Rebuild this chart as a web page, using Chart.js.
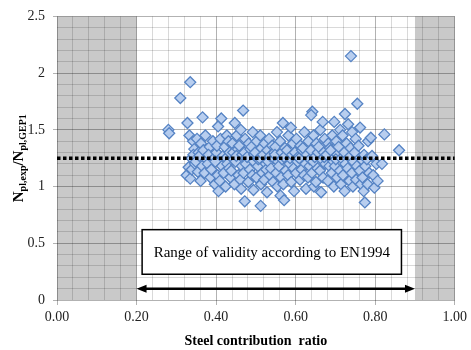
<!DOCTYPE html>
<html>
<head>
<meta charset="utf-8">
<script src="https://cdn.jsdelivr.net/npm/chart.js@4/dist/chart.umd.min.js"></script>
<style>
  body { margin: 0; background: #fff; }
  #wrap { width: 471px; height: 350px; }
</style>
</head>
<body>
<div id="wrap"><canvas id="chart" width="471" height="350"></canvas></div>
<script>
// Steel contribution ratio (x) vs Npl,exp/Npl,GEP1 (y)
const ratio = [
  0.280, 0.282, 0.31, 0.335,
  0.328, 0.333, 0.326, 0.335, 0.331, 0.338,
  0.342, 0.345, 0.339, 0.347, 0.343,
  0.352, 0.356, 0.349, 0.354,
  0.366, 0.362, 0.358, 0.365, 0.361,
  0.373, 0.368, 0.376, 0.371,
  0.384, 0.379, 0.386, 0.381,
  0.392, 0.395, 0.388, 0.397,
  0.405, 0.401, 0.398, 0.404, 0.406, 0.402,
  0.413, 0.411, 0.415, 0.409, 0.417,
  0.422, 0.425, 0.419, 0.424, 0.427,
  0.431, 0.434, 0.428, 0.436, 0.433,
  0.447, 0.441, 0.444, 0.438, 0.446, 0.443,
  0.452, 0.455, 0.449, 0.456, 0.451,
  0.462, 0.458, 0.465, 0.461, 0.463, 0.466,
  0.468, 0.473, 0.471, 0.475, 0.472, 0.469,
  0.482, 0.478, 0.485, 0.481, 0.486,
  0.492, 0.489, 0.495, 0.491, 0.494, 0.496,
  0.502, 0.498, 0.505, 0.501, 0.506,
  0.511, 0.514, 0.509, 0.516, 0.512, 0.513,
  0.522, 0.518, 0.525, 0.521, 0.526,
  0.533, 0.529, 0.531, 0.535, 0.528, 0.536,
  0.541, 0.545, 0.538, 0.543, 0.546,
  0.553, 0.549, 0.556, 0.551, 0.554, 0.548,
  0.561, 0.565, 0.558, 0.563, 0.562, 0.566,
  0.568, 0.573, 0.571, 0.575, 0.571, 0.569,
  0.582, 0.578, 0.585, 0.581, 0.586,
  0.588, 0.593, 0.591, 0.595, 0.589, 0.596,
  0.602, 0.598, 0.605, 0.601, 0.606,
  0.612, 0.609, 0.615, 0.611, 0.616,
  0.622, 0.618, 0.625, 0.621, 0.626,
  0.632, 0.628, 0.635, 0.631, 0.636,
  0.642, 0.639, 0.645, 0.638, 0.644, 0.641, 0.646,
  0.652, 0.648, 0.655, 0.651, 0.656,
  0.662, 0.658, 0.665, 0.661, 0.664,
  0.668, 0.673, 0.671, 0.675, 0.669, 0.672,
  0.682, 0.678, 0.685, 0.681, 0.686,
  0.692, 0.688, 0.695, 0.691, 0.696,
  0.697, 0.702, 0.705, 0.699, 0.704, 0.701,
  0.712, 0.708, 0.715, 0.711, 0.714,
  0.724, 0.718, 0.722, 0.725, 0.719, 0.723,
  0.732, 0.728, 0.735, 0.731, 0.736,
  0.739, 0.742, 0.738, 0.745, 0.741, 0.744,
  0.755, 0.751, 0.748, 0.754, 0.752,
  0.762, 0.758, 0.765, 0.761, 0.764,
  0.772, 0.775, 0.768, 0.774, 0.771,
  0.782, 0.779, 0.785, 0.781,
  0.789, 0.792, 0.795, 0.798,
  0.803, 0.806,
  0.823, 0.817,
  0.86
];
const strength = [
  1.50, 1.47, 1.78, 1.92,
  1.56, 1.45, 1.10, 1.07, 1.17, 1.25,
  1.40, 1.33, 1.15, 1.20, 1.28,
  1.42, 1.30, 1.22, 1.13,
  1.61, 1.38, 1.27, 1.18, 1.05,
  1.45, 1.32, 1.24, 1.12,
  1.35, 1.20, 1.08, 1.28,
  1.40, 1.25, 1.15, 1.02,
  1.53, 1.30, 1.22, 1.10, 0.96, 1.36,
  1.60, 1.42, 1.18, 1.05, 1.27,
  1.35, 1.25, 1.12, 1.00, 1.45,
  1.40, 1.30, 1.20, 1.08, 1.16,
  1.56, 1.38, 1.24, 1.14, 1.02, 1.30,
  1.45, 1.33, 1.22, 1.10, 1.27,
  1.50, 1.36, 1.18, 1.06, 0.98, 1.28,
  1.67, 1.42, 1.30, 1.20, 0.87, 1.12,
  1.38, 1.26, 1.15, 1.04, 1.33,
  1.48, 1.35, 1.22, 1.10, 0.97, 1.28,
  1.40, 1.30, 1.18, 1.08, 1.24,
  1.45, 1.34, 1.25, 1.12, 0.83, 1.02,
  1.38, 1.28, 1.20, 1.06, 1.15,
  1.42, 1.32, 1.22, 1.10, 0.95, 1.27,
  1.36, 1.25, 1.16, 1.04, 1.30,
  1.48, 1.35, 1.22, 1.12, 1.00, 1.28,
  1.40, 1.30, 1.18, 1.08, 0.92, 1.24,
  1.56, 1.34, 1.26, 1.14, 0.88, 1.02,
  1.45, 1.32, 1.20, 1.10, 1.25,
  1.52, 1.38, 1.28, 1.16, 1.04, 0.96,
  1.42, 1.30, 1.22, 1.12, 1.26,
  1.36, 1.25, 1.15, 1.06, 1.32,
  1.48, 1.34, 1.20, 1.10, 0.98,
  1.40, 1.28, 1.18, 1.08, 1.24,
  1.66, 1.63, 1.45, 1.32, 1.22, 1.12, 1.00,
  1.38, 1.26, 1.16, 1.04, 1.30,
  1.50, 1.35, 1.24, 1.14, 0.95,
  1.57, 1.42, 1.30, 1.20, 1.08, 1.26,
  1.38, 1.28, 1.18, 1.05, 1.34,
  1.45, 1.32, 1.22, 1.12, 1.00,
  1.57, 1.40, 1.28, 1.18, 1.08, 1.24,
  1.50, 1.35, 1.25, 1.14, 1.02,
  1.64, 1.45, 1.30, 1.20, 1.10, 0.96,
  1.55, 1.38, 1.26, 1.16, 1.05,
  2.15, 1.48, 1.34, 1.22, 1.12, 1.00,
  1.73, 1.42, 1.30, 1.18, 1.06,
  1.52, 1.36, 1.24, 1.14, 1.02,
  1.28, 1.18, 1.08, 0.86, 0.96,
  1.40, 1.24, 1.12, 1.02,
  1.43, 1.27, 1.10, 0.99,
  1.20, 1.05,
  1.46, 1.20,
  1.32
];
const meanLevel = 1.25;                 // dotted reference line
const shadedRanges = [[0, 0.2], [0.9, 1.0]];
const validityRange = [0.2, 0.9];       // arrow ends
const arrowLevel = 0.1;
const boxX = [0.214, 0.866];
const boxY = [0.227, 0.62];
const boxText = 'Range of validity according to EN1994';

const points = ratio.map((x, i) => ({ x: x, y: strength[i] }));

const serif = '"Liberation Serif", "Times New Roman", serif';

const backdrop = {
  id: 'backdrop',
  beforeDraw(chart) {
    const { ctx, chartArea, scales } = chart;
    ctx.save();
    ctx.fillStyle = '#fff';
    ctx.fillRect(0, 0, chart.width, chart.height);
    ctx.fillStyle = '#c9c9c9';
    shadedRanges.forEach(([a, b]) => {
      const x0 = scales.x.getPixelForValue(a);
      const x1 = scales.x.getPixelForValue(b);
      ctx.fillRect(x0, chartArea.top, x1 - x0, chartArea.bottom - chartArea.top);
    });
    ctx.restore();
  }
};

const notes = {
  id: 'notes',
  afterDatasetsDraw(chart) {
    const { ctx, scales } = chart;
    const sx = scales.x, sy = scales.y;
    ctx.save();
    // text box
    const bx0 = sx.getPixelForValue(boxX[0]), bx1 = sx.getPixelForValue(boxX[1]);
    const by0 = sy.getPixelForValue(boxY[1]), by1 = sy.getPixelForValue(boxY[0]);
    ctx.fillStyle = '#fff';
    ctx.fillRect(bx0, by0, bx1 - bx0, by1 - by0);
    ctx.strokeStyle = '#000';
    ctx.lineWidth = 1.5;
    ctx.strokeRect(bx0, by0, bx1 - bx0, by1 - by0);
    ctx.fillStyle = '#000';
    ctx.font = '15px ' + serif;
    ctx.textAlign = 'center';
    ctx.textBaseline = 'middle';
    ctx.fillText(boxText, (bx0 + bx1) / 2, (by0 + by1) / 2 + 1);

    // double arrow
    const ax0 = sx.getPixelForValue(validityRange[0]);
    const ax1 = sx.getPixelForValue(validityRange[1]);
    const ay = sy.getPixelForValue(arrowLevel);
    const head = 10, half = 4;
    ctx.lineWidth = 2.5;
    ctx.beginPath();
    ctx.moveTo(ax0 + head - 1, ay);
    ctx.lineTo(ax1 - head + 1, ay);
    ctx.stroke();
    ctx.beginPath();
    ctx.moveTo(ax0, ay);
    ctx.lineTo(ax0 + head, ay - half);
    ctx.lineTo(ax0 + head, ay + half);
    ctx.closePath();
    ctx.moveTo(ax1, ay);
    ctx.lineTo(ax1 - head, ay - half);
    ctx.lineTo(ax1 - head, ay + half);
    ctx.closePath();
    ctx.fill();
    ctx.restore();
  },
  afterDraw(chart) {
    // y axis title with subscripts
    const { ctx, chartArea } = chart;
    const parts = [
      ['N', '15px'], ['pl,exp', '10px'], ['/N', '15px'], ['pl,GEP1', '10px']
    ];
    ctx.save();
    ctx.fillStyle = '#000';
    ctx.textBaseline = 'alphabetic';
    ctx.textAlign = 'left';
    let total = 0;
    parts.forEach(p => {
      ctx.font = 'bold ' + p[1] + ' ' + serif;
      total += ctx.measureText(p[0]).width;
    });
    ctx.translate(23, (chartArea.top + chartArea.bottom) / 2);
    ctx.rotate(-Math.PI / 2);
    let x = -total / 2;
    parts.forEach(p => {
      ctx.font = 'bold ' + p[1] + ' ' + serif;
      const dy = p[1] === '10px' ? 3 : 0;
      ctx.fillText(p[0], x, dy);
      x += ctx.measureText(p[0]).width;
    });
    ctx.restore();
  }
};

const gridColor = (major) => (c) => {
  const v = c.tick ? c.tick.value : 0;
  return major(v) ? 'rgba(0,0,0,0.3)' : 'rgba(0,0,0,0.15)';
};
const tickColor = (major) => (c) => {
  const v = c.tick ? c.tick.value : 0;
  return major(v) ? 'rgba(0,0,0,0.3)' : 'rgba(0,0,0,0)';
};
const isMajorX = v => Math.round(v * 100) % 20 === 0;
const isMajorY = v => Math.round(v * 10) % 5 === 0;

new Chart(document.getElementById('chart'), {
  type: 'scatter',
  data: {
    datasets: [
      {
        type: 'line',
        data: [{ x: 0, y: meanLevel }, { x: 1, y: meanLevel }],
        borderColor: '#000',
        borderWidth: 3.5,
        borderDash: [3.5, 2.5],
        pointRadius: 0,
        order: 0
      },
      {
        data: points,
        pointStyle: 'rectRot',
        pointRadius: 5.5,
        pointBorderWidth: 1.3,
        backgroundColor: 'rgba(180,203,238,0.95)',
        borderColor: '#5583c4',
        order: 1
      }
    ]
  },
  options: {
    responsive: false,
    animation: false,
    layout: { padding: { left: 0, right: 12, top: 14, bottom: 0 } },
    plugins: { legend: { display: false }, tooltip: { enabled: false } },
    scales: {
      x: {
        type: 'linear',
        min: 0, max: 1,
        afterFit: s => { s.height = 50; },
        ticks: {
          stepSize: 0.04,
          autoSkip: false,
          maxRotation: 0,
          padding: 4,
          color: '#222',
          font: { family: serif, size: 14 },
          callback: v => isMajorX(v) ? v.toFixed(2) : ''
        },
        grid: { color: gridColor(isMajorX), tickColor: tickColor(isMajorX), tickLength: 5 },
        border: { display: false },
        title: {
          display: true,
          text: 'Steel contribution  ratio',
          color: '#000',
          font: { family: serif, size: 14, weight: 'bold' },
          padding: { top: 2, bottom: 0 }
        }
      },
      y: {
        min: 0, max: 2.5,
        afterFit: s => { s.width = 57; },
        ticks: {
          stepSize: 0.1,
          autoSkip: false,
          padding: 8,
          color: '#222',
          font: { family: serif, size: 14 },
          callback: v => isMajorY(v) ? String(Math.round(v * 10) / 10) : ''
        },
        grid: { color: gridColor(isMajorY), tickColor: tickColor(isMajorY), tickLength: 4 },
        border: { display: false }
      }
    }
  },
  plugins: [backdrop, notes]
});
</script>
</body>
</html>
